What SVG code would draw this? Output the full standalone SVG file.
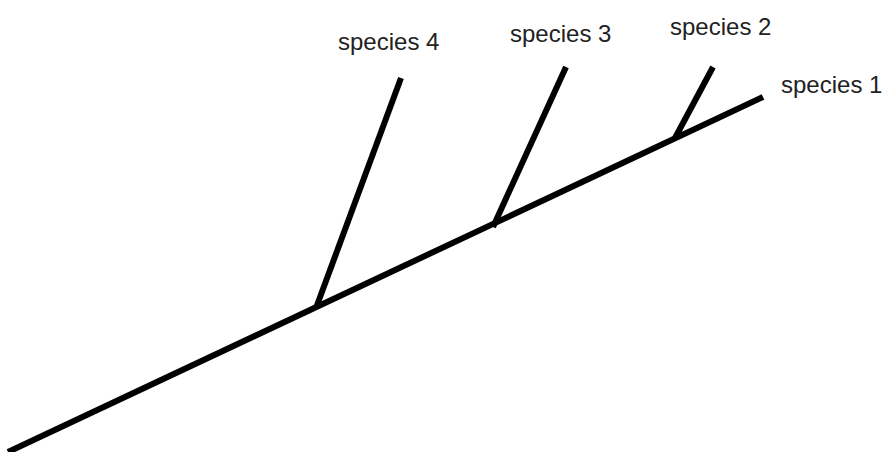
<svg xmlns="http://www.w3.org/2000/svg" width="884" height="452" viewBox="0 0 884 452">
<style>
.br{stroke:#000;stroke-width:6;stroke-linecap:butt;fill:none}
.lb{font-family:"Liberation Sans",Arial,sans-serif;font-size:24px;fill:#222}
</style>
<rect width="884" height="452" fill="#fff"/>
<g id="connectors">
<line class="br" x1="8" y1="452" x2="763" y2="97"/>
<line class="br" x1="316" y1="308" x2="401" y2="78"/>
<line class="br" x1="493" y1="227" x2="566" y2="67"/>
<line class="br" x1="675" y1="138" x2="713" y2="67"/>
</g>
<g id="species1"><text class="lb" x="781" y="93">species 1</text></g>
<g id="species2"><text class="lb" x="670" y="35">species 2</text></g>
<g id="species3"><text class="lb" x="510" y="42">species 3</text></g>
<g id="species4"><text class="lb" x="338" y="50">species 4</text></g>
</svg>
